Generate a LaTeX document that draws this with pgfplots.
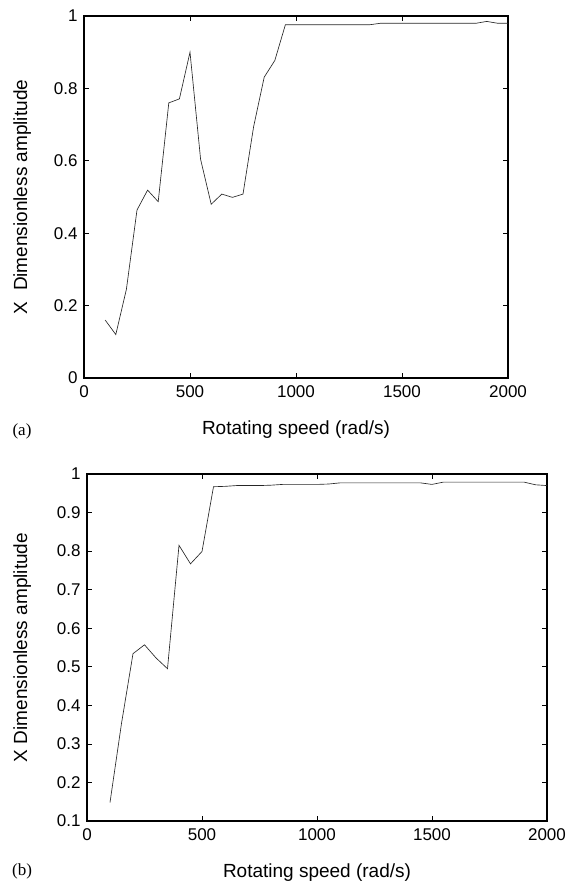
\documentclass[border=0pt]{standalone}
\usepackage{fontspec}
\setmainfont{Liberation Sans}
\newfontfamily\seriffont{Liberation Serif}
\usepackage{pgfplots}
\pgfplotsset{compat=1.18}
\begin{document}
\begin{tikzpicture}
\useasboundingbox (0pt,0pt) rectangle (567pt,883pt);
\pgfplotsset{
  myax/.style={
    scale only axis,
    axis line style={line width=1.1pt, black},
    every tick/.style={line width=0.6pt, black},
    major tick length=5pt,
    tick align=inside,
    xmin=0, xmax=2000,
    xtick={0,500,1000,1500,2000},
    ticklabel style={font=\fontsize{17}{17}\selectfont},
    label style={font=\fontsize{19}{19}\selectfont},
    /pgf/number format/assume math mode=true,
    /pgf/number format/1000 sep={},
    scaled ticks=false,
    xticklabel style={yshift=-4pt},
    yticklabel style={xshift=-3pt},
    xlabel={Rotating speed (rad/s)},
    x label style={at={(axis description cs:0.5,0)}, anchor=center, yshift=-52pt},
  },
  mycurve/.style={line width=0.65pt, black!85, no marks},
}
\begin{axis}[myax, at={(84pt,505pt)}, anchor=south west, width=424pt, height=362pt,
  ymin=0, ymax=1, ytick={0,0.2,0.4,0.6,0.8,1},
  ylabel={X\ \ Dimensionless amplitude},
  y label style={at={(axis description cs:-0.146,0.5)}, anchor=center}]
\addplot[mycurve] coordinates {
(100,0.160) (150,0.120) (200,0.245) (250,0.464) (300,0.519) (350,0.487)
(400,0.760) (450,0.771) (500,0.900) (550,0.604) (600,0.480) (650,0.508)
(700,0.499) (750,0.508) (800,0.694) (850,0.831) (900,0.877) (950,0.976)
(1000,0.976) (1100,0.976) (1200,0.976) (1300,0.976) (1350,0.976) (1400,0.980)
(1500,0.980) (1600,0.980) (1700,0.980) (1800,0.980) (1850,0.980) (1900,0.985)
(1950,0.980) (2000,0.980)
};
\end{axis}
\node[font=\seriffont\fontsize{17}{17}\selectfont] at (22pt,452pt) {(a)};
\begin{axis}[myax, at={(87pt,62pt)}, anchor=south west, width=460pt, height=347pt,
  ymin=0.1, ymax=1, ytick={0.1,0.2,0.3,0.4,0.5,0.6,0.7,0.8,0.9,1},
  ylabel={X Dimensionless amplitude},
  y label style={at={(axis description cs:-0.141,0.5)}, anchor=center}]
\addplot[mycurve] coordinates {
(100,0.148) (150,0.353) (200,0.534) (250,0.557) (300,0.523) (350,0.495)
(400,0.815) (450,0.767) (500,0.799) (550,0.967) (600,0.968) (650,0.970)
(700,0.970) (750,0.970) (800,0.971) (850,0.973) (900,0.973) (950,0.973)
(1000,0.973) (1050,0.974) (1100,0.977) (1200,0.977) (1300,0.977) (1400,0.977)
(1450,0.977) (1500,0.973) (1550,0.979) (1600,0.979) (1700,0.979) (1800,0.979)
(1900,0.979) (1950,0.972) (2000,0.970)
};
\end{axis}
\node[font=\seriffont\fontsize{17}{17}\selectfont] at (22pt,12pt) {(b)};
\end{tikzpicture}
\end{document}
